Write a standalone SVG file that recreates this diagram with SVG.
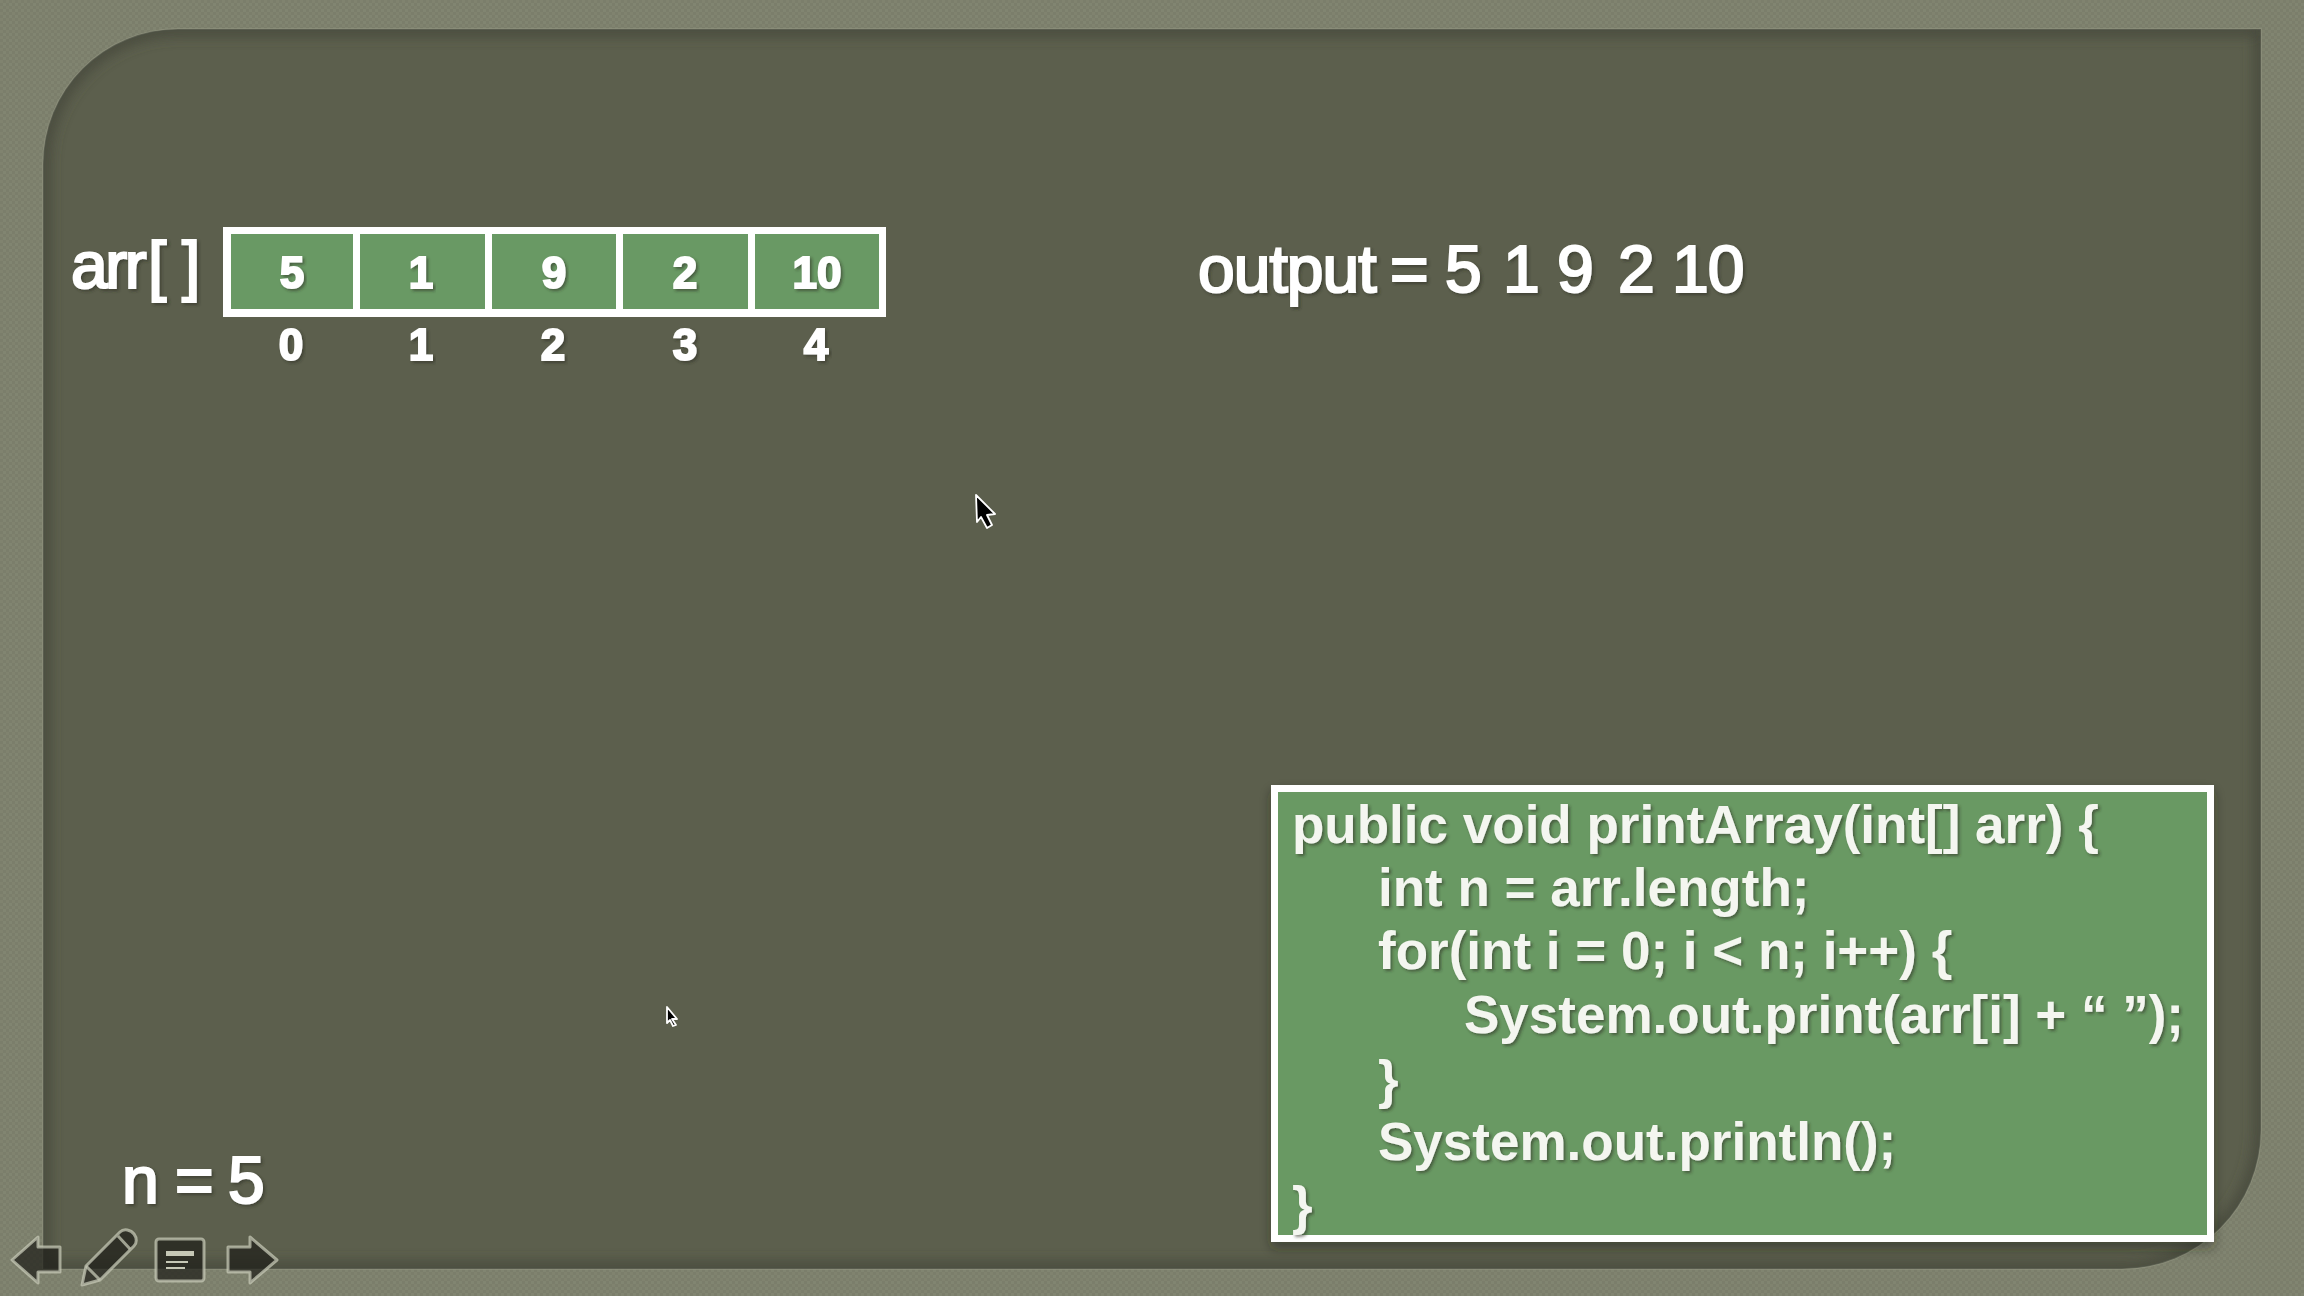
<svg xmlns="http://www.w3.org/2000/svg" width="2304" height="1296" viewBox="0 0 2304 1296">
<defs>
<pattern id="weave" width="6" height="6" patternUnits="userSpaceOnUse">
<rect width="6" height="6" fill="#7b7e6b"/>
<rect x="0" y="0" width="3" height="3" fill="#848773" fill-opacity=".55"/>
<rect x="3" y="3" width="3" height="3" fill="#878a76" fill-opacity=".55"/>
</pattern>
<filter id="soft" x="-10%" y="-30%" width="120%" height="160%">
<feGaussianBlur in="SourceAlpha" stdDeviation="1.6" result="b"/>
<feOffset in="b" dx="1.5" dy="2" result="o"/>
<feFlood flood-color="#2c2e22" flood-opacity="0.55"/>
<feComposite in2="o" operator="in" result="s"/>
<feGaussianBlur in="SourceGraphic" stdDeviation="0.7" result="t"/>
<feMerge><feMergeNode in="s"/><feMergeNode in="t"/></feMerge>
</filter>
<filter id="boxShadow" x="-5%" y="-5%" width="110%" height="112%">
<feGaussianBlur in="SourceAlpha" stdDeviation="6" result="b"/>
<feOffset in="b" dx="0" dy="6" result="o"/>
<feFlood flood-color="#22241a" flood-opacity="0.45"/>
<feComposite in2="o" operator="in" result="s"/>
<feMerge><feMergeNode in="s"/><feMergeNode in="SourceGraphic"/></feMerge>
</filter>
<filter id="blur8"><feGaussianBlur stdDeviation="7"/></filter>
<clipPath id="panelClip"><path d="M178 29H2261V1130A139 139 0 0 1 2122 1269H43V164A135 135 0 0 1 178 29Z"/></clipPath>
</defs>
<style>
text{font-family:"Liberation Sans",Arial,sans-serif;fill:#fff;filter:url(#soft)}
.big{font-size:66px;stroke:#fff;stroke-width:2.2px}
.cell{font-size:44px;font-weight:700;text-anchor:middle;stroke:#fff;stroke-width:2px}
.code{font-size:53px;font-weight:700;fill:#f4f6f0}
.green{fill:#699964}
.white{fill:#fff}
.icon{fill:#1e1f19;fill-opacity:.72;stroke:#c6c8b6;stroke-opacity:.75;stroke-width:3;stroke-linejoin:round}
.cursor{fill:#000;stroke:#fff;stroke-width:1.8;stroke-linejoin:round}
</style>
<rect id="frame" width="2304" height="1296" fill="url(#weave)"/>
<g id="panel">
<path d="M178 29H2261V1130A139 139 0 0 1 2122 1269H43V164A135 135 0 0 1 178 29Z" fill="#5c5f4d" stroke="#8d907c" stroke-width="1.5"/>
<g clip-path="url(#panelClip)">
<path d="M178 29H2261V1130A139 139 0 0 1 2122 1269H43V164A135 135 0 0 1 178 29Z" fill="none" stroke="#45473a" stroke-width="12" filter="url(#blur8)"/>
</g>
</g>
<g id="array">
<rect class="white" x="223" y="227" width="663" height="90"/>
<rect class="green" x="231" y="234" width="122" height="75"/>
<rect class="green" x="360" y="234" width="125" height="75"/>
<rect class="green" x="492" y="234" width="124" height="75"/>
<rect class="green" x="623" y="234" width="125" height="75"/>
<rect class="green" x="755" y="234" width="124" height="75"/>
<text class="cell" x="292" y="288">5</text>
<text class="cell" x="421" y="288">1</text>
<text class="cell" x="554" y="288">9</text>
<text class="cell" x="685" y="288">2</text>
<text class="cell" x="817" y="288">10</text>
<text class="cell" x="291" y="360">0</text>
<text class="cell" x="421" y="360">1</text>
<text class="cell" x="553" y="360">2</text>
<text class="cell" x="685" y="360">3</text>
<text class="cell" x="816" y="360">4</text>
</g>
<g id="arr-label"><text class="big" y="288"><tspan x="71" letter-spacing="-2.500">arr</tspan><tspan x="148">[</tspan><tspan x="182">]</tspan></text></g>
<g id="output"><text class="big" y="292"><tspan x="1198" letter-spacing="-1">output</tspan><tspan x="1390">=</tspan><tspan x="1445">5</tspan><tspan x="1503">1</tspan><tspan x="1557">9</tspan><tspan x="1618">2</tspan><tspan x="1672" letter-spacing="-1">10</tspan></text></g>
<g id="n-label"><text class="big" y="1203"><tspan x="122">n</tspan><tspan x="175">=</tspan><tspan x="228">5</tspan></text></g>
<g id="code">
<g filter="url(#boxShadow)">
<rect class="white" x="1271" y="785" width="943" height="457"/>
<rect class="green" x="1278" y="792" width="929" height="443"/>
</g>
<text class="code" x="1292" y="843">public void printArray(int[] arr) {</text>
<text class="code" x="1378" y="906">int n = arr.length;</text>
<text class="code" x="1378" y="969">for(int i = 0; i &lt; n; i++) {</text>
<text class="code" x="1464" y="1033">System.out.print(arr[i] + “ ”);</text>
<text class="code" x="1378" y="1098">}</text>
<text class="code" x="1378" y="1160">System.out.println();</text>
<text class="code" x="1292" y="1224">}</text>
</g>
<g id="nav-back"><path class="icon" d="M12 1260L38 1237V1247H60V1272H38V1283Z"/></g>
<g id="nav-pen">
<path class="icon" d="M82 1285L86 1266L120 1232C124 1228 131 1230 134 1234C137 1238 137 1243 134 1246L100 1280Z"/>
<path d="M86 1266L100 1280M118 1236L130 1249" stroke="#c6c8b6" stroke-opacity=".75" stroke-width="3" fill="none"/>
</g>
<g id="nav-notes">
<rect class="icon" x="156" y="1239" width="48" height="42" rx="3"/>
<path d="M166 1253.500H194" stroke="#c6c8b6" stroke-width="5" fill="none"/>
<path d="M166 1262H188M166 1268H185" stroke="#c6c8b6" stroke-width="2" fill="none"/>
</g>
<g id="nav-forward"><path class="icon" d="M277 1260L250 1237V1247H228V1272H250V1283Z"/></g>
<g id="cursor-large"><path class="cursor" d="M976 495L995 514L987 515L992 525L987 528L981 517L977 522Z"/></g>
<g id="cursor-small"><path class="cursor" d="M667 1007L677 1019L672 1019L676 1025L673 1026L670 1020L667 1023Z"/></g>
</svg>
